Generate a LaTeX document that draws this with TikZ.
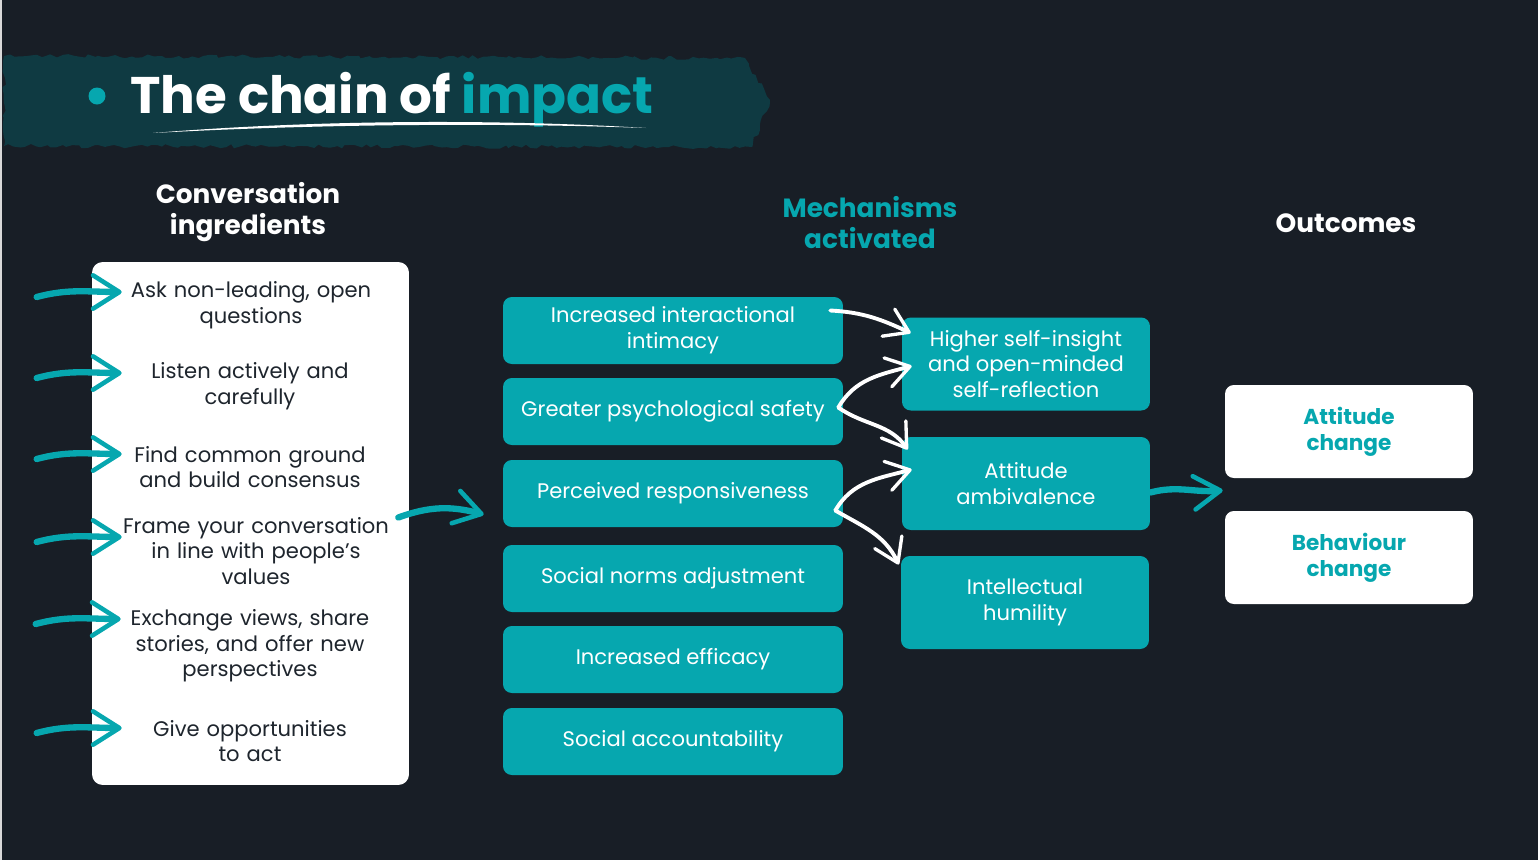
\documentclass[tikz,border=0pt]{standalone}
\usepackage{fontspec}
\setmainfont{Poppins}
\usepackage{xcolor}
\usetikzlibrary{arrows.meta,calc,positioning,decorations.pathmorphing}
\definecolor{bgdark}{HTML}{181E26}
\definecolor{tealc}{HTML}{06A7AF}
\definecolor{bannerc}{HTML}{0F3A42}
\definecolor{inkc}{HTML}{1E252D}
\tikzstyle{mech} = [fill=tealc, rounded corners=5pt, text=white, align=center, minimum width=6.8cm, minimum height=1.34cm, font=\fontsize{12}{14.6}\selectfont]
\tikzstyle{effect} = [mech, minimum width=4.96cm, minimum height=1.86cm]
\tikzstyle{outcome} = [fill=white, rounded corners=5pt, text=tealc, align=center, minimum width=4.96cm, minimum height=1.86cm, font=\fontsize{12.3}{14.6}\selectfont\bfseries]
\tikzstyle{ingr} = [text=inkc, align=center, text width=5.8cm, inner sep=0pt, font=\fontsize{12}{14.6}\selectfont]
\tikzstyle{heading} = [text=white, align=center, font=\fontsize{15}{17.6}\selectfont\bfseries]
\tikzstyle{tealarrow} = [draw=tealc, line width=3.6pt, line cap=round, -{Straight Barb[round,length=15pt,width=19pt,line width=2.6pt]}]
\tikzstyle{whitearrow} = [draw=white, line width=2.2pt, line cap=round, -{Straight Barb[round,length=13pt,width=17pt,line width=1.9pt]}]

\begin{document}
\begin{tikzpicture}[x=0.02cm,y=-0.02cm]
	\fill[bgdark] (0,0) rectangle (1538,860); % background
	\useasboundingbox (0,0) rectangle (1538,860);
	\fill[gray!30] (0,0) rectangle (2,860); % left edge
	\fill[bannerc, decorate, decoration={random steps,segment length=3pt,amplitude=1.2pt}] (4,56) -- (745,58) -- (770,100) -- (752,147) -- (4,146) -- cycle; % brush banner
	\fill[tealc] (97,96) circle (8.5); % bullet
	\node (title) [anchor=base west, text=white, inner sep=0pt, font=\fontsize{29.3}{36}\selectfont\bfseries] at (130,113) {The chain of \textcolor{tealc}{impact}};
	\fill[white] (153,133) .. controls (300,121) and (480,118) .. (646,128) .. controls (480,122) and (300,125) .. (153,133); % underline swoosh

	% column headings
	\node (hIngr) [heading] at (248,212) {Conversation\\ingredients};
	\node (hMech) [heading, text=tealc] at (870,223) {Mechanisms\\activated};
	\node (hOut) [heading] at (1346,223) {Outcomes};

	% conversation ingredients
	\node (ingbox) [fill=white, rounded corners=6pt, minimum width=6.34cm, minimum height=10.46cm] at (250.5,523.5) {};
	\node (ing1) [ingr] at (251,305) {Ask non-leading, open\\questions};
	\node (ing2) [ingr] at (250,386) {Listen actively and\\carefully};
	\node (ing3) [ingr] at (250,467) {Find common ground\\and build consensus};
	\node (ing4) [ingr] at (256,551) {Frame your conversation\\in line with people's\\values};
	\node (ing5) [ingr] at (250,646) {Exchange views, share\\stories, and offer new\\perspectives};
	\node (ing6) [ingr] at (250,741) {Give opportunities\\to act};

	% mechanisms
	\node (intim) [mech] at (673,330.5) {Increased interactional\\intimacy};
	\node (safety) [mech] at (673,411.5) {Greater psychological safety};
	\node (resp) [mech] at (673,493.5) {Perceived responsiveness};
	\node (norms) [mech] at (673,578.5) {Social norms adjustment};
	\node (effic) [mech] at (673,659.5) {Increased efficacy};
	\node (account) [mech] at (673,741.5) {Social accountability};

	\node (selfins) [effect] at (1026,364) {Higher self-insight\\and open-minded\\self-reflection};
	\node (ambiv) [effect] at (1026,483.5) {Attitude\\ambivalence};
	\node (humil) [effect] at (1025,602.5) {Intellectual\\humility};

	% outcomes
	\node (attch) [outcome] at (1349,431.5) {Attitude\\change};
	\node (behch) [outcome] at (1349,557.5) {Behaviour\\change};

	% arrows into the ingredients
	\foreach \n/\dx/\dy in {ing1/16/-13, ing2/17/-13, ing3/17/-13, ing4/11/-14, ing5/16/-27, ing6/17/-13} {
		\coordinate (tip-\n) at ($(\n.west)+(\dx,\dy)$);
		\coordinate (tail-\n) at ($(tip-\n)+(-85,5)$);
		\draw[tealarrow] (tail-\n) to[out=15,in=180] (tip-\n);
	}
	\draw[tealarrow] ($(ingbox.east)+(-11,-6)$) to[out=20,in=165] ($(resp.west)+(-19,21)$); % ingredients to mechanisms

	% white hand-drawn arrows
	\draw[whitearrow] ($(intim.east)+(-13,-20)$) to[out=-3,in=155] ($(selfins.west)+(9,-31)$);
	\draw[whitearrow] ($(safety.east)+(-5,-4)$) to[out=60,in=195] ($(selfins.west)+(10,2)$);
	\draw[whitearrow] ($(safety.east)+(-5,-4)$) to[out=-35,in=125] ($(ambiv.west)+(6,-34)$);
	\draw[whitearrow] ($(resp.east)+(-8,17)$) to[out=60,in=195] ($(ambiv.west)+(10,-14)$);
	\draw[whitearrow] ($(resp.east)+(-8,17)$) to[out=-30,in=115] ($(humil.west)+(-2,-38)$);

	\draw[tealarrow] ($(ambiv.east)+(0,9)$) to[out=15,in=185] ($(attch.south west)+(-2,12)$); % to outcomes
\end{tikzpicture}
\end{document}
